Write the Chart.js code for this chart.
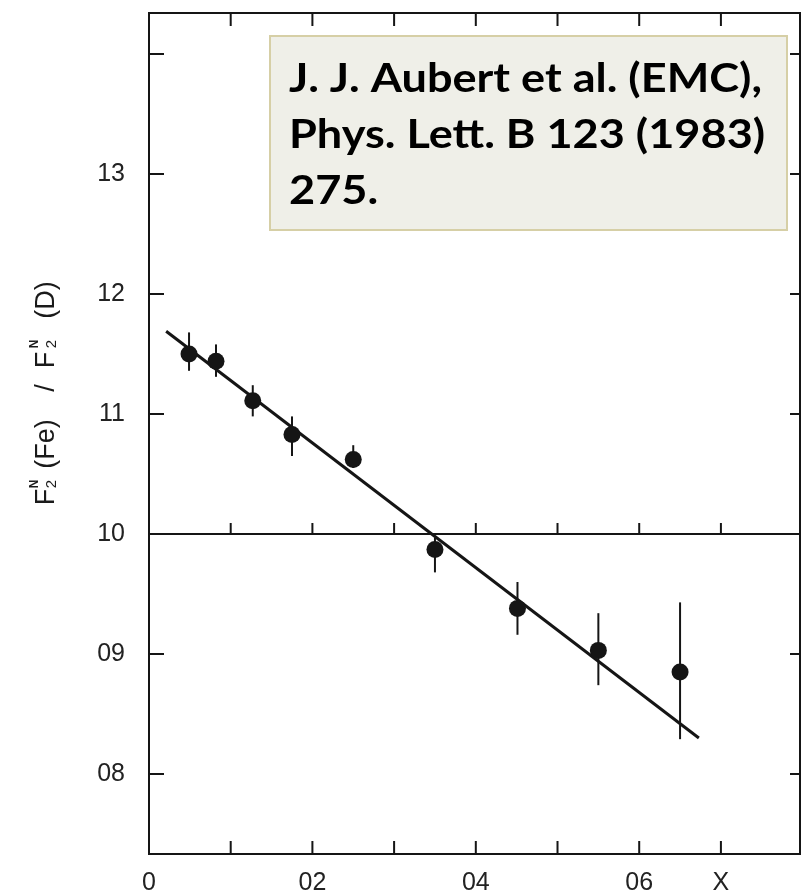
<!DOCTYPE html>
<html lang="en">
<head>
<meta charset="UTF-8" />
<title>EMC effect: F2(Fe) / F2(D)</title>
<script src="https://cdn.jsdelivr.net/npm/chart.js@4.4.1/dist/chart.umd.min.js"></script>
<style>
  html, body { margin: 0; padding: 0; background: #fff; }
  canvas { display: block; }
</style>
</head>
<body>
<canvas id="chart" width="802" height="894"></canvas>
<script>
const xValues = [0.049, 0.082, 0.127, 0.175, 0.250, 0.350, 0.451, 0.550, 0.650];
const ratio   = [1.150, 1.144, 1.111, 1.083, 1.062, 0.987, 0.938, 0.903, 0.885];
const errUp   = [0.018, 0.014, 0.013, 0.015, 0.012, 0.010, 0.022, 0.031, 0.058];
const errDown = [0.014, 0.013, 0.013, 0.018, 0.007, 0.019, 0.022, 0.029, 0.056];

// straight line fit (end points)
const fitX = [0.021, 0.673];
const fitY = [1.169, 0.830];

// unity reference line
const unityX = [0, 0.7968];
const unityY = [1.0, 1.0];

// tick labels as printed on the original
const xTickValues = [0, 0.1, 0.2, 0.3, 0.4, 0.5, 0.6, 0.7];
const xTickLabels = ['0', '', '02', '', '04', '', '06', 'X'];
const yTickValues = [0.8, 0.9, 1.0, 1.1, 1.2, 1.3, 1.4];
const yTickLabels = ['08', '09', '10', '11', '12', '13', ''];

const noteLines = ['J. J. Aubert et al. (EMC),', 'Phys. Lett. B 123 (1983)', '275.'];

const ink = '#151515';

function labelFor(values, labels, v) {
  const i = values.findIndex(t => Math.abs(t - v) < 1e-6);
  return i < 0 ? '' : labels[i];
}

function toPoints(xs, ys) {
  return xs.map((x, i) => ({x: x, y: ys[i]}));
}

// drop the extra room chart.js keeps for half tick labels
function noPad(s) {
  s.paddingTop = 0;
  s.paddingBottom = 0;
  s.paddingLeft = 0;
  s.paddingRight = 0;
}

function drawYTitle(ctx) {
  // rotated title with stacked super/subscripts, reads bottom to top
  ctx.save();
  ctx.translate(44, 0);
  ctx.rotate(-Math.PI / 2);
  ctx.fillStyle = '#1a1a1a';
  ctx.textAlign = 'center';
  ctx.textBaseline = 'alphabetic';
  const base = '27px "Liberation Sans", Arial, sans-serif';
  const parts = [['F', 497], ['(Fe)', 444], ['/', 388], ['F', 360], ['(D)', 300]];
  ctx.font = base;
  parts.forEach(p => ctx.fillText(p[0], -p[1], 9.5));
  [484, 344].forEach(c => {
    ctx.font = 'bold 12px "Liberation Sans", Arial, sans-serif';
    ctx.fillText('N', -c, -6);
    ctx.font = '15px "Liberation Sans", Arial, sans-serif';
    ctx.fillText('2', -c, 12);
  });
  ctx.restore();
}

function drawNote(ctx) {
  const left = 270, top = 36, w = 517, h = 194;
  ctx.save();
  ctx.fillStyle = '#efefe8';
  ctx.fillRect(left, top, w, h);
  ctx.strokeStyle = '#d6cfa6';
  ctx.lineWidth = 2;
  ctx.strokeRect(left, top, w, h);
  ctx.fillStyle = '#000';
  ctx.font = 'bold 40px Lato, "Open Sans", sans-serif';
  ctx.textAlign = 'left';
  ctx.textBaseline = 'alphabetic';
  // squeeze the font to the width of the original Calibri lines
  const sx = 473 / ctx.measureText(noteLines[0]).width;
  const baselines = [92, 148, 204];
  noteLines.forEach((line, i) => {
    ctx.save();
    ctx.translate(289, baselines[i]);
    ctx.scale(sx, 1);
    ctx.fillText(line, 0, 0);
    ctx.restore();
  });
  ctx.restore();
}

const framePlugin = {
  id: 'frame',
  beforeDatasetsDraw(chart) {
    const {ctx, scales: {x, y}} = chart;
    ctx.save();
    ctx.strokeStyle = ink;
    ctx.lineWidth = 2;
    // error bars
    xValues.forEach((xv, i) => {
      const px = x.getPixelForValue(xv);
      ctx.beginPath();
      ctx.moveTo(px, y.getPixelForValue(ratio[i] + errUp[i]));
      ctx.lineTo(px, y.getPixelForValue(ratio[i] - errDown[i]));
      ctx.stroke();
    });
    // little ticks standing on the unity line
    const py = y.getPixelForValue(1.0);
    xTickValues.slice(1).forEach(v => {
      const px = x.getPixelForValue(v);
      ctx.beginPath();
      ctx.moveTo(px, py);
      ctx.lineTo(px, py - 11);
      ctx.stroke();
    });
    ctx.restore();
  },
  afterDraw(chart) {
    const {ctx, chartArea: a, scales: {x, y}} = chart;
    ctx.save();
    ctx.strokeStyle = ink;
    ctx.lineWidth = 2;
    ctx.strokeRect(a.left, a.top, a.right - a.left, a.bottom - a.top);
    ctx.beginPath();
    xTickValues.slice(1).forEach(v => {
      const px = x.getPixelForValue(v);
      ctx.moveTo(px, a.bottom); ctx.lineTo(px, a.bottom - 13);
      ctx.moveTo(px, a.top); ctx.lineTo(px, a.top + 13);
    });
    yTickValues.forEach(v => {
      const py = y.getPixelForValue(v);
      ctx.moveTo(a.left, py); ctx.lineTo(a.left + 15, py);
      ctx.moveTo(a.right, py); ctx.lineTo(a.right - 10, py);
    });
    ctx.stroke();
    ctx.restore();
    drawNote(ctx);
    drawYTitle(ctx);
  }
};

const tickFont = {family: '"Liberation Sans", Arial, sans-serif', size: 25};

new Chart(document.getElementById('chart').getContext('2d'), {
  type: 'scatter',
  data: {
    datasets: [
      {
        label: 'data',
        data: toPoints(xValues, ratio),
        pointRadius: 8.5,
        pointHoverRadius: 8.5,
        pointBackgroundColor: ink,
        pointBorderColor: ink,
        borderWidth: 0,
        showLine: false,
        order: 0
      },
      {
        label: 'fit',
        data: toPoints(fitX, fitY),
        showLine: true,
        borderColor: ink,
        borderWidth: 3,
        pointRadius: 0,
        order: 1
      },
      {
        label: 'unity',
        data: toPoints(unityX, unityY),
        showLine: true,
        borderColor: ink,
        borderWidth: 2,
        pointRadius: 0,
        order: 2
      }
    ]
  },
  options: {
    responsive: false,
    animation: false,
    layout: {autoPadding: false, padding: {top: 13, right: 2, left: 0, bottom: 0}},
    plugins: {legend: {display: false}, tooltip: {enabled: false}},
    scales: {
      x: {
        type: 'linear',
        min: 0,
        max: 0.7968,
        grid: {display: false, drawTicks: false},
        border: {display: false},
        ticks: {
          stepSize: 0.1,
          includeBounds: false,
          autoSkip: false,
          maxRotation: 0,
          padding: 14,
          color: '#222',
          font: tickFont,
          callback: v => labelFor(xTickValues, xTickLabels, v)
        },
        afterFit: s => { s.height = 40; noPad(s); }
      },
      y: {
        type: 'linear',
        min: 0.7333,
        max: 1.4342,
        grid: {display: false, drawTicks: false},
        border: {display: false},
        ticks: {
          stepSize: 0.1,
          includeBounds: false,
          autoSkip: false,
          padding: 24,
          color: '#222',
          font: tickFont,
          callback: v => labelFor(yTickValues, yTickLabels, v)
        },
        afterFit: s => { s.width = 149; noPad(s); }
      }
    }
  },
  plugins: [framePlugin]
});
</script>
</body>
</html>
